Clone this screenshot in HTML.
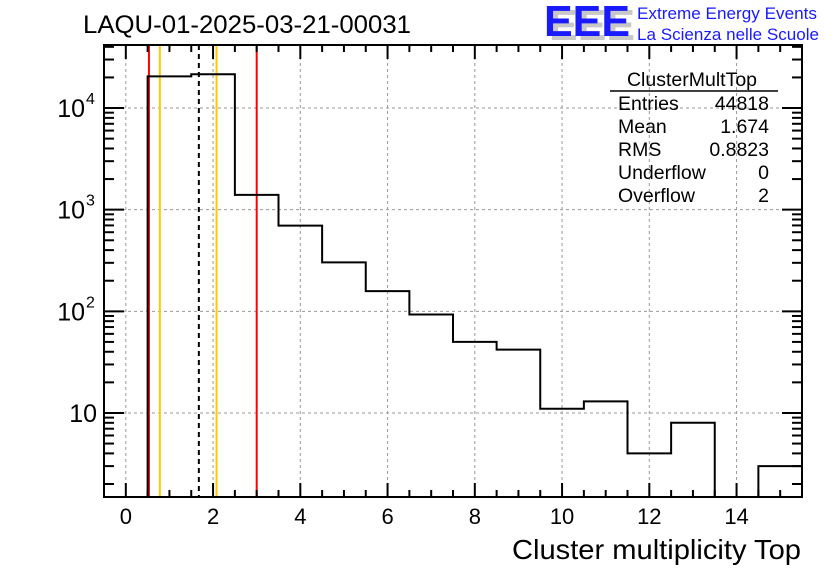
<!DOCTYPE html>
<html><head><meta charset="utf-8"><style>
html,body{margin:0;padding:0;background:#fff;}
svg{display:block;font-family:"Liberation Sans",Arial,sans-serif;}
</style></head><body>
<svg id="c" width="836" height="572" viewBox="0 0 836 572">
<rect width="836" height="572" fill="#fff"/>
<g id="grid"></g>
<g id="vlines"></g>
<g id="hist"></g>
<g id="axes"></g>
<text x="83" y="33" font-size="25" textLength="328" lengthAdjust="spacingAndGlyphs">LAQU-01-2025-03-21-00031</text>
<g>
<text x="549" y="40" font-size="44" font-weight="bold" fill="#c8c8c8" textLength="86" lengthAdjust="spacingAndGlyphs">EEE</text>
<text x="544" y="36" font-size="44" font-weight="bold" fill="#1a1aff" textLength="86" lengthAdjust="spacingAndGlyphs">EEE</text>
<text x="637" y="19" font-size="17" fill="#1a1aff" textLength="180" lengthAdjust="spacingAndGlyphs">Extreme Energy Events</text>
<text x="637" y="40" font-size="17" fill="#1a1aff" textLength="182" lengthAdjust="spacingAndGlyphs">La Scienza nelle Scuole</text>
</g>
<g font-size="19.5">
<text x="692" y="86" text-anchor="middle">ClusterMultTop</text>
<line x1="610" y1="91" x2="778" y2="91" stroke="#000" stroke-width="1.5"/>
<text x="618" y="110">Entries</text><text x="769" y="110" text-anchor="end">44818</text>
<text x="618" y="133">Mean</text><text x="769" y="133" text-anchor="end">1.674</text>
<text x="618" y="156">RMS</text><text x="769" y="156" text-anchor="end">0.8823</text>
<text x="618" y="179">Underflow</text><text x="769" y="179" text-anchor="end">0</text>
<text x="618" y="202">Overflow</text><text x="769" y="202" text-anchor="end">2</text>
</g>
<text x="801" y="559" font-size="28" text-anchor="end" textLength="289" lengthAdjust="spacingAndGlyphs">Cluster multiplicity Top</text>
</svg>
<script>
const binCenters=[0,1,2,3,4,5,6,7,8,9,10,11,12,13,14,15];
const counts=[0,20500,21500,1400,696,303,158,93,50,42,11,13,4,8,0,3];
const xTicks=[0,2,4,6,8,10,12,14];
const yDecades=[10,100,1000,10000];
const yLabels=["10","10","10","10"];
const yExps=["","2","3","4"];
const markerX=[0.53,0.78,1.674,2.08,3.0];
const markerColor=["#ff0000","#ffc800","#000","#ffc800","#ff0000"];

const L=104,R=802,T=45,B=497;
const xmin=-0.5,xmax=15.5,ymin=1.49,ymax=41700;
const sx=v=>L+(v-xmin)/(xmax-xmin)*(R-L);
const sy=v=>{if(v<=ymin)return B;const y=B-(Math.log10(v)-Math.log10(ymin))/(Math.log10(ymax)-Math.log10(ymin))*(B-T);return Math.max(T,y);};
const NS="http://www.w3.org/2000/svg";
function mk(tag,at,parent){const e=document.createElementNS(NS,tag);for(const k in at)e.setAttribute(k,at[k]);parent.appendChild(e);return e;}
const grid=document.getElementById('grid'),hist=document.getElementById('hist'),vl=document.getElementById('vlines'),ax=document.getElementById('axes');

xTicks.forEach(v=>{const g=mk('line',{x1:sx(v),x2:sx(v),y1:T,y2:B,stroke:'#999','stroke-dasharray':'3,3','stroke-width':1},grid);

});
yDecades.forEach(v=>{const g=mk('line',{x1:L,x2:R,y1:sy(v),y2:sy(v),stroke:'#999','stroke-dasharray':'3,3','stroke-width':1},grid);

});

let d="";let prev=null;
binCenters.forEach((c,i)=>{const x0=sx(c-0.5),x1=sx(c+0.5),y=sy(counts[i]);
 if(prev===null){d+=`M${x0},${y}`;}else{d+=`L${x0},${y}`;}
 d+=`L${x1},${y}`;prev=y;});
const hp=mk('path',{d:d,fill:'none',stroke:'#000','stroke-width':2},hist);



markerX.forEach((v,i)=>{const m=mk('line',{x1:sx(v),x2:sx(v),y1:T,y2:B,stroke:markerColor[i],'stroke-width':2},vl);
 if(i===2)m.setAttribute('stroke-dasharray','5,4');
 
 });

const fr=mk('rect',{x:L,y:T,width:R-L,height:B-T,fill:'none',stroke:'#000','stroke-width':2},ax);


for(let v=0;v<=15.5;v+=0.5){const maj=Math.abs(v%2)<1e-6;const len=maj?14:7;
 mk('line',{x1:sx(v),x2:sx(v),y1:B,y2:B-len,stroke:'#000','stroke-width':2},ax);
 mk('line',{x1:sx(v),x2:sx(v),y1:T,y2:T+len,stroke:'#000','stroke-width':2},ax);}
xTicks.forEach(v=>{const t=mk('text',{x:sx(v),y:524,'font-size':22,'text-anchor':'middle'},ax);t.textContent=v;
 
 });
for(let e=0;e<=4;e++){for(let m=1;m<=9;m++){const v=m*Math.pow(10,e);if(v<ymin||v>ymax)continue;const len=m===1?20:10;const y=sy(v);
 mk('line',{x1:L,x2:L+len,y1:y,y2:y,stroke:'#000','stroke-width':2},ax);
 mk('line',{x1:R,x2:R-len,y1:y,y2:y,stroke:'#000','stroke-width':2},ax);}}
yDecades.forEach((v,i)=>{const y=sy(v);
 const t=mk('text',{x:yExps[i]?85:97,y:y+9,'font-size':25,'text-anchor':'end'},ax);t.textContent=yLabels[i];
 
 
 if(yExps[i]){const s=mk('text',{x:86,y:y-4,'font-size':16},ax);s.textContent=yExps[i];
 
 }});
</script>
</body></html>
